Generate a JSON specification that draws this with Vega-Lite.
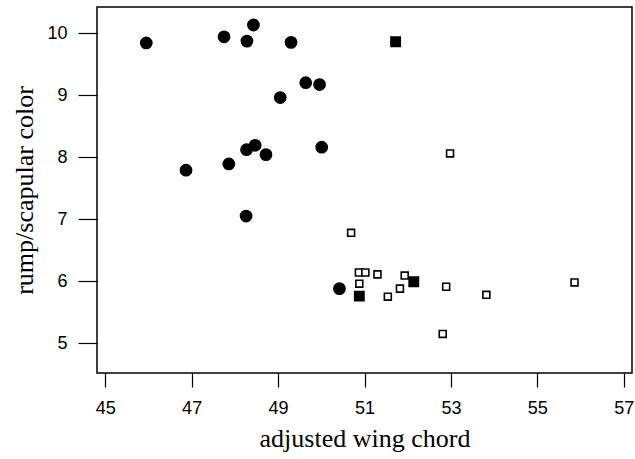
{
  "$schema": "https://vega.github.io/schema/vega-lite/v6.json",
  "width": 535,
  "height": 366,
  "autosize": "none",
  "padding": {"left": 97, "top": 7, "right": 3, "bottom": 86},
  "background": "white",
  "config": {
    "view": {"stroke": "black", "strokeWidth": 1.5},
    "axis": {
      "grid": false,
      "domain": false,
      "tickColor": "black",
      "tickWidth": 1.2,
      "labelFont": "Liberation Sans",
      "labelFontSize": 18,
      "labelColor": "black",
      "titleFont": "Liberation Serif",
      "titleFontSize": 26,
      "titleFontWeight": "normal",
      "titleColor": "black"
    }
  },
  "data": {
    "values": [
      {"wing": 45.95, "color": 9.84, "type": "A"},
      {"wing": 47.75, "color": 9.94, "type": "A"},
      {"wing": 48.28, "color": 9.87, "type": "A"},
      {"wing": 48.43, "color": 10.13, "type": "A"},
      {"wing": 49.30, "color": 9.85, "type": "A"},
      {"wing": 49.64, "color": 9.20, "type": "A"},
      {"wing": 49.96, "color": 9.17, "type": "A"},
      {"wing": 49.05, "color": 8.96, "type": "A"},
      {"wing": 48.47, "color": 8.19, "type": "A"},
      {"wing": 48.27, "color": 8.12, "type": "A"},
      {"wing": 48.72, "color": 8.04, "type": "A"},
      {"wing": 50.01, "color": 8.16, "type": "A"},
      {"wing": 46.87, "color": 7.79, "type": "A"},
      {"wing": 47.86, "color": 7.89, "type": "A"},
      {"wing": 48.26, "color": 7.05, "type": "A"},
      {"wing": 50.42, "color": 5.88, "type": "A"},
      {"wing": 51.72, "color": 9.86, "type": "B"},
      {"wing": 52.14, "color": 5.99, "type": "B"},
      {"wing": 50.88, "color": 5.76, "type": "B"},
      {"wing": 50.69, "color": 6.78, "type": "C"},
      {"wing": 50.87, "color": 6.14, "type": "C"},
      {"wing": 51.02, "color": 6.14, "type": "C"},
      {"wing": 51.30, "color": 6.11, "type": "C"},
      {"wing": 51.93, "color": 6.09, "type": "C"},
      {"wing": 50.88, "color": 5.96, "type": "C"},
      {"wing": 51.54, "color": 5.75, "type": "C"},
      {"wing": 51.82, "color": 5.88, "type": "C"},
      {"wing": 52.89, "color": 5.91, "type": "C"},
      {"wing": 53.82, "color": 5.78, "type": "C"},
      {"wing": 52.81, "color": 5.15, "type": "C"},
      {"wing": 55.86, "color": 5.98, "type": "C"},
      {"wing": 52.98, "color": 8.06, "type": "C"}
    ]
  },
  "mark": {"type": "point", "filled": true, "stroke": "black", "strokeWidth": 1.6, "opacity": 1},
  "encoding": {
    "x": {
      "field": "wing",
      "type": "quantitative",
      "scale": {"domain": [44.81, 57.19], "nice": false, "zero": false},
      "axis": {
        "title": "adjusted wing chord",
        "values": [45, 47, 49, 51, 53, 55, 57],
        "tickSize": 14,
        "labelPadding": 12,
        "titlePadding": 8,
        "labelFlush": false
      }
    },
    "y": {
      "field": "color",
      "type": "quantitative",
      "scale": {"domain": [4.52, 10.42], "nice": false, "zero": false},
      "axis": {
        "title": "rump/scapular color",
        "values": [5, 6, 7, 8, 9, 10],
        "tickSize": 19,
        "labelPadding": 11,
        "titlePadding": 9,
        "labelFlush": false
      }
    },
    "shape": {
      "field": "type",
      "type": "nominal",
      "scale": {"domain": ["A", "B", "C"], "range": ["circle", "square", "square"]},
      "legend": null
    },
    "fill": {
      "field": "type",
      "type": "nominal",
      "scale": {"domain": ["A", "B", "C"], "range": ["black", "black", "white"]},
      "legend": null
    },
    "size": {
      "field": "type",
      "type": "nominal",
      "scale": {"domain": ["A", "B", "C"], "range": [125, 48, 62]},
      "legend": null
    }
  }
}
